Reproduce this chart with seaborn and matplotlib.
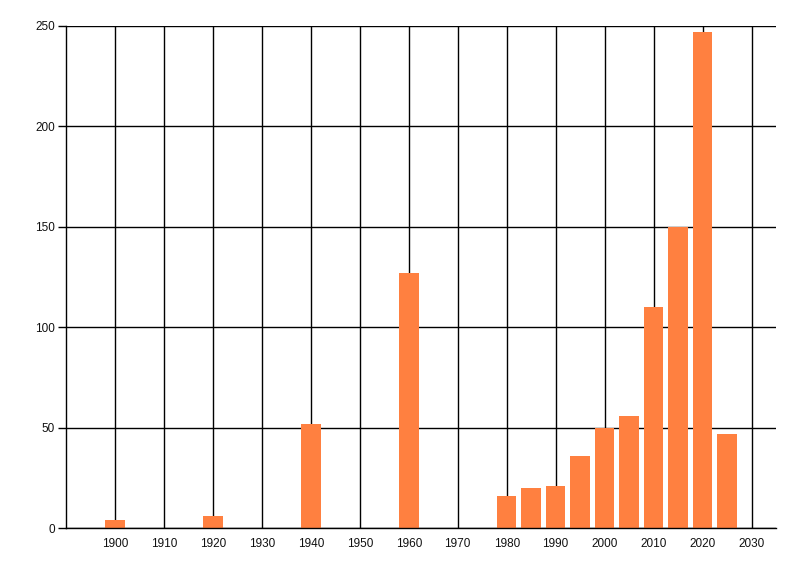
import pandas as pd
import matplotlib
matplotlib.use("Agg")
import matplotlib.pyplot as plt
import seaborn as sns

# values
years = [1900, 1920, 1940, 1960, 1980, 1985, 1990, 1995, 2000, 2005, 2010, 2015, 2020, 2025]
counts = [4, 6, 52, 127, 16, 20, 21, 36, 50, 56, 110, 150, 247, 47]
x_ticks = list(range(1900, 2031, 10))
y_ticks = [0, 50, 100, 150, 200, 250]

podaci = pd.DataFrame({"year": years, "count": counts})

sns.set_style("white")
plt.rcParams["font.family"] = ["Liberation Sans", "DejaVu Sans"]

fig = plt.figure(figsize=(8, 5.76), dpi=100)
ax = fig.add_axes([0.0825, 0.0833, 0.8875, 0.8716])

sns.barplot(data=podaci, x="year", y="count", native_scale=True,
            color="#FF8040", saturation=1, width=0.8, linewidth=0, ax=ax)

ax.set_xlim(1890, 2035)
ax.set_ylim(0, 250)
ax.set_xticks(x_ticks)
ax.set_yticks(y_ticks)
ax.set_xlabel("")
ax.set_ylabel("")

ax.set_axisbelow(True)
ax.grid(True, color="black", linewidth=1)
for s in ["top", "right"]:
    ax.spines[s].set_visible(False)
for s in ["left", "bottom"]:
    ax.spines[s].set_color("black")
    ax.spines[s].set_linewidth(1)

ax.tick_params(axis="y", left=True, length=6, width=1, color="black",
               labelsize=8.5, pad=2, labelcolor="#111111")
ax.tick_params(axis="x", bottom=False, labelsize=8.5, pad=4, labelcolor="#111111")

fig.savefig("out.png", dpi=100)
